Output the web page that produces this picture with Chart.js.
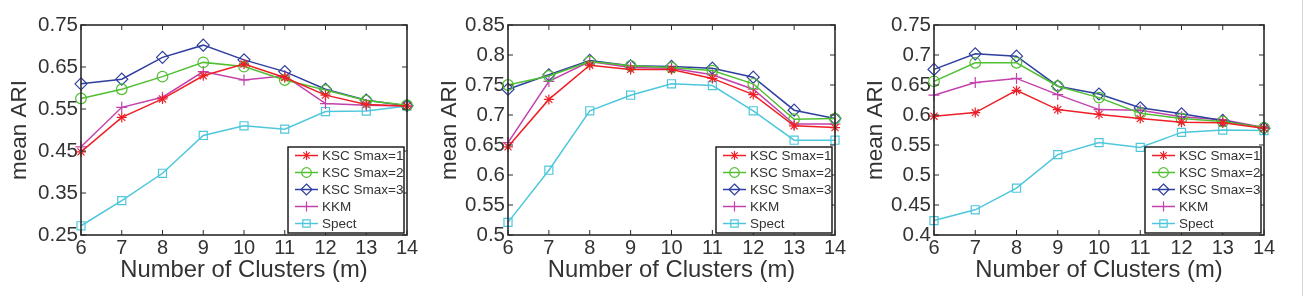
<!DOCTYPE html>
<html>
<head>
<meta charset="utf-8">
<script src="https://cdn.jsdelivr.net/npm/chart.js@4/dist/chart.umd.min.js"></script>
<style>
  html, body { margin: 0; padding: 0; background: #fff; }
  #wrap { position: relative; width: 1305px; height: 296px; background: #fff; overflow: hidden; }
  #wrap canvas { position: absolute; top: 0; }
  #edge { position: absolute; left: 1302px; top: 0; width: 1px; height: 296px; background: #d4d4d4; }
</style>
</head>
<body>
<div id="wrap">
  <canvas id="c1" width="425" height="296" style="left:0px"></canvas>
  <canvas id="c2" width="435" height="296" style="left:425px"></canvas>
  <canvas id="c3" width="440" height="296" style="left:860px"></canvas>
  <div id="edge"></div>
</div>
<script>
// ---------------- DATA ----------------
const categories = [6, 7, 8, 9, 10, 11, 12, 13, 14];
const seriesNames = ['KSC Smax=1', 'KSC Smax=2', 'KSC Smax=3', 'KKM', 'Spect'];
const xTitle = 'Number of Clusters (m)';
const yTitle = 'mean ARI';

// Panel 1
const p1Ksc1  = [0.448, 0.530, 0.574, 0.629, 0.657, 0.625, 0.583, 0.561, 0.557];
const p1Ksc2  = [0.575, 0.597, 0.627, 0.661, 0.651, 0.619, 0.595, 0.570, 0.559];
const p1Ksc3  = [0.610, 0.621, 0.673, 0.702, 0.667, 0.639, 0.597, 0.571, 0.558];
const p1Kkm   = [0.460, 0.554, 0.578, 0.639, 0.619, 0.629, 0.563, 0.559, 0.557];
const p1Spect = [0.272, 0.332, 0.397, 0.487, 0.510, 0.502, 0.544, 0.545, 0.557];
const p1YTicks = [0.25, 0.35, 0.45, 0.55, 0.65, 0.75];

// Panel 2
const p2Ksc1  = [0.647, 0.726, 0.783, 0.776, 0.776, 0.761, 0.734, 0.682, 0.679];
const p2Ksc2  = [0.750, 0.765, 0.789, 0.782, 0.779, 0.774, 0.752, 0.693, 0.694];
const p2Ksc3  = [0.743, 0.767, 0.791, 0.782, 0.781, 0.778, 0.763, 0.708, 0.694];
const p2Kkm   = [0.654, 0.756, 0.789, 0.779, 0.778, 0.767, 0.743, 0.685, 0.685];
const p2Spect = [0.521, 0.608, 0.707, 0.733, 0.752, 0.749, 0.707, 0.658, 0.658];
const p2YTicks = [0.5, 0.55, 0.6, 0.65, 0.7, 0.75, 0.8, 0.85];

// Panel 3
const p3Ksc1  = [0.598, 0.604, 0.641, 0.609, 0.601, 0.594, 0.588, 0.587, 0.578];
const p3Ksc2  = [0.656, 0.687, 0.687, 0.648, 0.629, 0.603, 0.594, 0.589, 0.579];
const p3Ksc3  = [0.676, 0.702, 0.698, 0.648, 0.635, 0.612, 0.602, 0.591, 0.578];
const p3Kkm   = [0.633, 0.654, 0.661, 0.634, 0.609, 0.608, 0.597, 0.592, 0.579];
const p3Spect = [0.424, 0.442, 0.478, 0.534, 0.554, 0.546, 0.571, 0.575, 0.574];
const p3YTicks = [0.4, 0.45, 0.5, 0.55, 0.6, 0.65, 0.7, 0.75];

// ---------------- STYLE ----------------
const FONT = '"Liberation Sans", Arial, Helvetica, sans-serif';
const TEXT = '#333333';
const FRAME = '#2a2a2a';
const seriesStyles = [
  { color: '#ee1f26', pointStyle: 'star',    radius: 5 },
  { color: '#52bf33', pointStyle: 'circle',  radius: 5.3 },
  { color: '#2f3f9f', pointStyle: 'rectRot', radius: 6 },
  { color: '#c341ad', pointStyle: 'cross',   radius: 5.5 },
  { color: '#4ec7dc', pointStyle: 'rect',    radius: 5.7 }
];

function drawMarker(ctx, style, x, y, r) {
  ctx.save();
  ctx.strokeStyle = style.color;
  ctx.lineWidth = 1.2;
  ctx.beginPath();
  const s = style.pointStyle;
  if (s === 'circle') {
    ctx.arc(x, y, r, 0, Math.PI * 2);
  } else if (s === 'rect') {
    const h = r * Math.SQRT1_2;
    ctx.rect(x - h, y - h, 2 * h, 2 * h);
  } else if (s === 'rectRot') {
    ctx.moveTo(x, y - r); ctx.lineTo(x + r, y); ctx.lineTo(x, y + r); ctx.lineTo(x - r, y); ctx.closePath();
  } else if (s === 'cross') {
    ctx.moveTo(x - r, y); ctx.lineTo(x + r, y); ctx.moveTo(x, y - r); ctx.lineTo(x, y + r);
  } else if (s === 'star') {
    ctx.moveTo(x - r, y); ctx.lineTo(x + r, y); ctx.moveTo(x, y - r); ctx.lineTo(x, y + r);
    const d = r * Math.SQRT1_2;
    ctx.moveTo(x - d, y - d); ctx.lineTo(x + d, y + d); ctx.moveTo(x - d, y + d); ctx.lineTo(x + d, y - d);
  }
  ctx.stroke();
  ctx.restore();
}

// frame, inward ticks and inside legend
const framePlugin = {
  id: 'matlabFrame',
  afterDraw(chart) {
    const { ctx, chartArea: a } = chart;
    const xs = chart.scales.x, ys = chart.scales.y;
    ctx.save();
    ctx.strokeStyle = FRAME;
    ctx.lineWidth = 1;
    const tl = 5;
    ctx.beginPath();
    xs.ticks.forEach((t, i) => {
      const px = xs.getPixelForTick(i);
      ctx.moveTo(px, a.bottom); ctx.lineTo(px, a.bottom - tl);
      ctx.moveTo(px, a.top); ctx.lineTo(px, a.top + tl);
    });
    ys.ticks.forEach(t => {
      const py = ys.getPixelForValue(t.value);
      ctx.moveTo(a.left, py); ctx.lineTo(a.left + tl, py);
      ctx.moveTo(a.right, py); ctx.lineTo(a.right - tl, py);
    });
    ctx.stroke();
    ctx.lineWidth = 1.6;
    ctx.strokeRect(a.left, a.top, a.right - a.left, a.bottom - a.top);

    // legend
    const lw = 116, lh = 86;
    const lx = a.right - 3 - lw, ly = a.bottom - 2 - lh;
    ctx.fillStyle = '#fff';
    ctx.fillRect(lx, ly, lw, lh);
    ctx.lineWidth = 1.4;
    ctx.strokeStyle = '#111';
    ctx.strokeRect(lx, ly, lw, lh);
    ctx.font = '13.5px ' + FONT;
    ctx.textBaseline = 'middle';
    ctx.textAlign = 'left';
    chart.data.datasets.forEach((ds, i) => {
      const st = seriesStyles[i];
      const cy = ly + 8.5 + i * 17;
      ctx.strokeStyle = st.color;
      ctx.lineWidth = 1.5;
      ctx.beginPath();
      ctx.moveTo(lx + 7, cy); ctx.lineTo(lx + 30, cy);
      ctx.stroke();
      drawMarker(ctx, st, lx + 18.5, cy, st.radius - 0.5);
      ctx.fillStyle = TEXT;
      ctx.fillText(ds.label, lx + 34, cy + 0.5);
    });
    ctx.restore();
  }
};

function makePanel(id, series, yTicks, lay) {
  const datasets = series.map((vals, i) => ({
    label: seriesNames[i],
    data: vals,
    borderColor: seriesStyles[i].color,
    backgroundColor: 'rgba(0,0,0,0)',
    pointBackgroundColor: 'rgba(0,0,0,0)',
    pointBorderColor: seriesStyles[i].color,
    pointStyle: seriesStyles[i].pointStyle,
    pointRadius: seriesStyles[i].radius,
    pointBorderWidth: 1.2,
    borderWidth: 1.5,
    tension: 0,
    clip: false
  }));
  return new Chart(document.getElementById(id), {
    type: 'line',
    data: { labels: categories.map(String), datasets },
    plugins: [framePlugin],
    options: {
      responsive: false,
      animation: false,
      devicePixelRatio: 1,
      layout: { padding: { left: 0, right: lay.padRight, top: 25, bottom: 0 } },
      plugins: { legend: { display: false }, tooltip: { enabled: false } },
      scales: {
        x: {
          type: 'category',
          offset: false,
          grid: { display: false, drawTicks: false },
          border: { display: false },
          ticks: { color: TEXT, font: { family: FONT, size: 20 }, padding: lay.xTickPad, maxRotation: 0, autoSkip: false },
          title: { display: true, text: xTitle, color: TEXT, font: { family: FONT, size: 23.8 }, padding: { top: 0, bottom: 11.5 } },
          afterFit(s) { s.height = 61; s.paddingLeft = 0; s.paddingRight = 0; }
        },
        y: {
          type: 'linear',
          min: yTicks[0],
          max: yTicks[yTicks.length - 1],
          grid: { display: false, drawTicks: false },
          border: { display: false },
          afterBuildTicks(s) { s.ticks = yTicks.map(v => ({ value: v })); },
          ticks: {
            color: TEXT, font: { family: FONT, size: 20.5 }, padding: 3,
            callback: v => String(+Number(v).toFixed(2))
          },
          title: { display: true, text: yTitle, color: TEXT, font: { family: FONT, size: 22.5 }, padding: { top: lay.titlePad, bottom: 0 } },
          afterFit(s) { s.width = lay.yWidth; s.paddingTop = 0; s.paddingBottom = 0; }
        }
      }
    }
  });
}

makePanel('c1', [p1Ksc1, p1Ksc2, p1Ksc3, p1Kkm, p1Spect], p1YTicks, { yWidth: 81, padRight: 18, titlePad: 6, xTickPad: 1 });
makePanel('c2', [p2Ksc1, p2Ksc2, p2Ksc3, p2Kkm, p2Spect], p2YTicks, { yWidth: 83, padRight: 25, titlePad: 11, xTickPad: 1 });
makePanel('c3', [p3Ksc1, p3Ksc2, p3Ksc3, p3Kkm, p3Spect], p3YTicks, { yWidth: 74, padRight: 36, titlePad: 2, xTickPad: 1 });
</script>
</body>
</html>
